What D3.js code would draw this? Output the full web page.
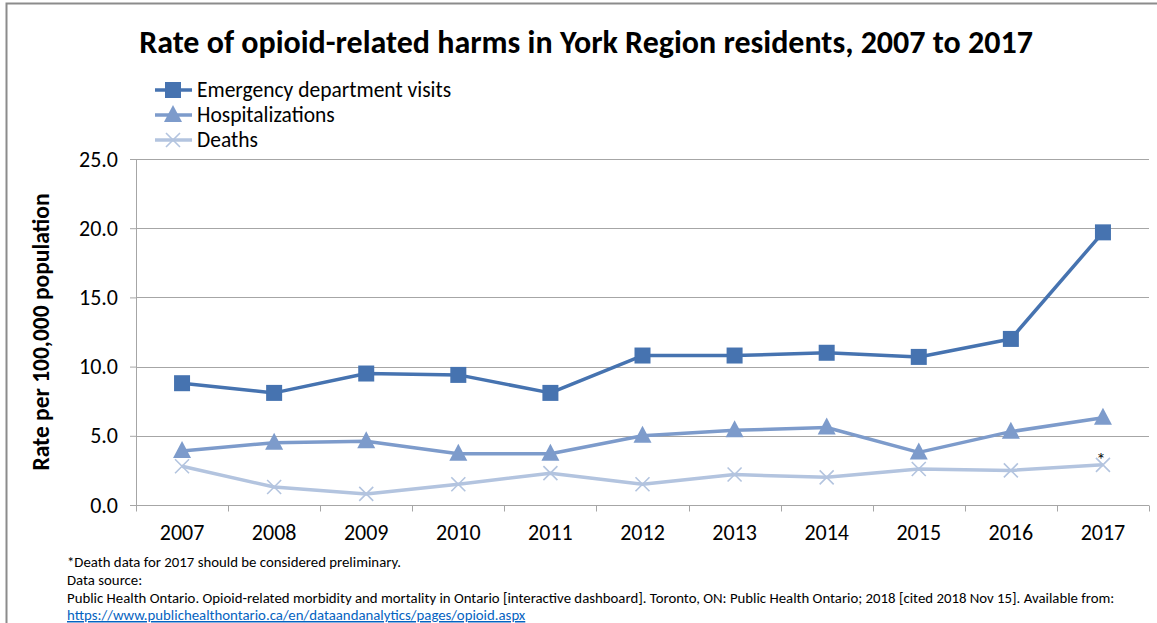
<!DOCTYPE html>
<html><head><meta charset="utf-8">
<script src="https://cdn.jsdelivr.net/npm/d3@7"></script>
<style>
body{margin:0;background:#fff;}
svg{display:block;font-family:Carlito,"Open Sans",sans-serif;}
</style></head>
<body><svg id="chart" width="1157" height="623"></svg>
<script>
const years = ["2007","2008","2009","2010","2011","2012","2013","2014","2015","2016","2017"];
const edVisits = [8.8,8.1,9.5,9.4,8.1,10.8,10.8,11.0,10.7,12.0,19.7];
const hospitalizations = [3.9,4.5,4.6,3.7,3.7,5.0,5.4,5.6,3.8,5.3,6.3];
const deaths = [2.8,1.3,0.8,1.5,2.3,1.5,2.2,2.0,2.6,2.5,2.9];
const yTicks = [0,5,10,15,20,25];
const seriesNames = ["Emergency department visits","Hospitalizations","Deaths"];
const seriesColors = ["#4673b0","#7d9bcb","#b3c4df"];
const seriesMarkers = ["square","triangle","cross"];

const svg = d3.select("#chart");
const W = 1157, H = 623;
const m = {left:136, right:1149, top:159, bottom:505};

// frame
svg.append("path").attr("d",`M6.5,${H} V3.5 H${W}`).attr("fill","none").attr("stroke","#8c8c8c").attr("stroke-width",2);

const x = d3.scaleBand().domain(years).range([m.left,m.right]).paddingInner(0).paddingOuter(0);
const y = d3.scaleLinear().domain([0,25]).range([m.bottom,m.top]);

// gridlines + y ticks
const yAxis = d3.axisLeft(y).tickValues(yTicks).tickFormat(d3.format(".1f")).tickSize(6).tickPadding(12);
const ga = svg.append("g").attr("transform",`translate(${m.left},0)`).call(yAxis);
ga.select(".domain").attr("stroke","#a6a6a6");
ga.selectAll(".tick line").attr("stroke","#a6a6a6");
ga.selectAll(".tick text").attr("font-size",22).attr("fill","#000").attr("font-family",'Carlito,"Open Sans",sans-serif');
svg.append("g").selectAll("line").data(yTicks.filter(d=>d>0)).join("line")
  .attr("x1",m.left).attr("x2",m.right).attr("y1",d=>Math.round(y(d))+0.5).attr("y2",d=>Math.round(y(d))+0.5)
  .attr("stroke","#a6a6a6").attr("stroke-width",1);

// x axis
const gx = svg.append("g").attr("transform",`translate(0,${m.bottom+0.5})`);
gx.append("line").attr("x1",m.left).attr("x2",m.right).attr("stroke","#a6a6a6");
const bounds = years.map(d=>x(d)).concat([m.right]);
gx.selectAll("line.t").data(bounds).join("line").attr("class","t")
  .attr("x1",d=>Math.round(d)+0.5).attr("x2",d=>Math.round(d)+0.5).attr("y1",0).attr("y2",6).attr("stroke","#a6a6a6");
gx.selectAll("text").data(years).join("text")
  .attr("x",d=>x(d)+x.bandwidth()/2).attr("y",34).attr("text-anchor","middle")
  .attr("font-size",22).text(d=>d);

// y label
svg.append("text").attr("transform",`translate(49,332) rotate(-90)`).attr("text-anchor","middle")
  .attr("font-size",23.5).attr("font-weight","bold").text("Rate per 100,000 population");

// title
svg.append("text").attr("x",586).attr("y",53).attr("text-anchor","middle")
  .attr("font-size",32).attr("font-weight","bold").text("Rate of opioid-related harms in York Region residents, 2007 to 2017");

const cx = d=>x(d)+x.bandwidth()/2;
const allSeries = [edVisits,hospitalizations,deaths];

function drawMarker(g, type, color, px, py){
  if(type==="square"){
    g.append("rect").attr("x",px-8).attr("y",py-8).attr("width",16).attr("height",16).attr("fill",color);
  } else if(type==="triangle"){
    g.append("path").attr("d",`M${px},${py-10} L${px+9},${py+7} L${px-9},${py+7} Z`).attr("fill",color);
  } else {
    g.append("path").attr("d",`M${px-7},${py-7} L${px+7},${py+7} M${px-7},${py+7} L${px+7},${py-7}`)
      .attr("stroke",color).attr("stroke-width",1.6).attr("fill","none");
  }
}

// draw series back to front
[2,1,0].forEach(i=>{
  const vals = allSeries[i];
  const g = svg.append("g");
  g.append("path").datum(vals)
    .attr("d",d3.line().x((d,j)=>cx(years[j])).y(d=>y(d)))
    .attr("fill","none").attr("stroke",seriesColors[i]).attr("stroke-width",3.5).attr("stroke-linejoin","round");
  vals.forEach((v,j)=>drawMarker(g,seriesMarkers[i],seriesColors[i],cx(years[j]),y(v)));
});

// asterisk on 2017 deaths
svg.append("text").attr("x",cx("2017")-2).attr("y",y(deaths[10])+1).attr("text-anchor","middle")
  .attr("font-size",19).text("*");

// legend
seriesNames.forEach((name,i)=>{
  const ly = 90 + i*25;
  const g = svg.append("g");
  g.append("line").attr("x1",155).attr("x2",192).attr("y1",ly).attr("y2",ly).attr("stroke",seriesColors[i]).attr("stroke-width",3.5);
  drawMarker(g,seriesMarkers[i],seriesColors[i],173,ly);
  g.append("text").attr("x",197).attr("y",ly+7).attr("font-size",21.5).text(name);
});

// footnotes
const notes = [
  "*Death data for 2017 should be considered preliminary.",
  "Data source:",
  "Public Health Ontario. Opioid-related morbidity and mortality in Ontario [interactive dashboard]. Toronto, ON: Public Health Ontario; 2018 [cited 2018 Nov 15]. Available from:"
];
notes.forEach((t,i)=>{
  svg.append("text").attr("x",67).attr("y",567+i*18).attr("font-size",14.8).text(t);
});
svg.append("text").attr("x",67).attr("y",620).attr("font-size",14.8).attr("fill","#0563c1")
  .attr("text-decoration","underline").text("https://www.publichealthontario.ca/en/dataandanalytics/pages/opioid.aspx");
</script></body></html>
